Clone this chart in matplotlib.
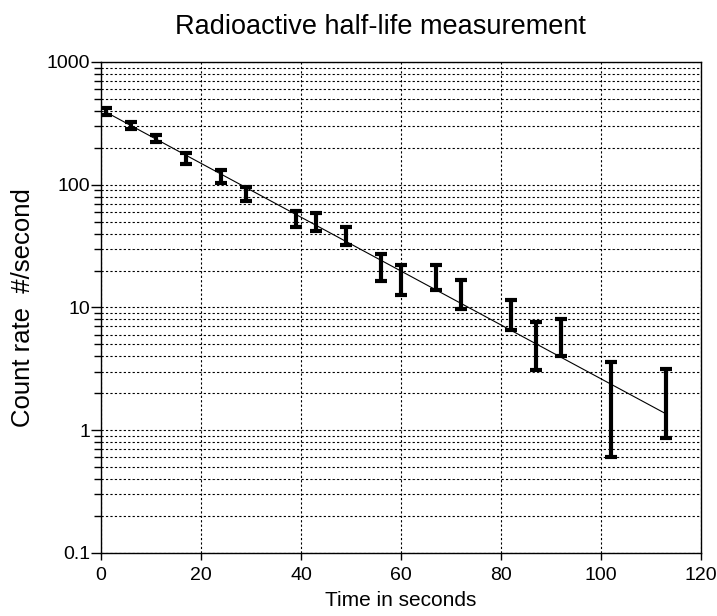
import numpy as np
import matplotlib.pyplot as plt
from matplotlib.ticker import LogLocator, FixedLocator, FixedFormatter

plt.rcParams['font.family'] = ['Liberation Sans', 'DejaVu Sans']

# measured count rates (linear, symmetric errors)
time_s = [1, 6, 11, 17, 24, 29, 39, 43, 49, 56, 60, 67, 72, 82, 87, 92, 102, 113]
rate = [395, 307, 239, 165, 118, 84.5, 53, 50.5, 39, 22, 17.4, 18, 13.3, 9, 5.35, 6.0, 2.1, 2.0]
rate_err = [25, 20, 15, 18, 14, 10.5, 8, 8.5, 6.6, 5.5, 4.8, 4, 3.6, 2.5, 2.25, 2.0, 1.5, 1.13]

# exponential fit endpoints (straight on log axis)
fit_t = [1, 113]
fit_rate = [390, 1.36]

ytick_vals = [0.1, 1, 10, 100, 1000]
ytick_labels = ['0.1', '1', '10', '100', '1000']

fig = plt.figure(figsize=(7.17, 6.16), dpi=100)
ax = fig.add_axes([0.1409, 0.1023, 0.8368, 0.7971])

ax.set_yscale('log')
ax.set_xlim(0, 120)
ax.set_ylim(0.1, 1000)

ax.plot(fit_t, fit_rate, color='black', linewidth=0.8, zorder=3)
ax.errorbar(time_s, rate, yerr=rate_err, fmt='none', ecolor='black',
            elinewidth=3, capsize=4, capthick=3, zorder=4)

ax.xaxis.set_major_locator(FixedLocator([0, 20, 40, 60, 80, 100, 120]))
ax.yaxis.set_major_locator(FixedLocator(ytick_vals))
ax.yaxis.set_major_formatter(FixedFormatter(ytick_labels))
ax.yaxis.set_minor_locator(LogLocator(base=10, subs=np.arange(2, 10)))
ax.yaxis.set_minor_formatter(plt.NullFormatter())

ax.tick_params(axis='y', which='major', direction='out', length=7, width=1, labelsize=14, pad=1)
ax.tick_params(axis='y', which='minor', direction='out', length=5, width=1)
ax.tick_params(axis='x', which='major', direction='out', length=5, width=1, labelsize=14, pad=5)

ax.grid(True, which='both', axis='y', linestyle=(0, (2, 2)), color='black', linewidth=0.8)
ax.grid(True, which='major', axis='x', linestyle=(0, (2, 2)), color='black', linewidth=0.8)

for s in ax.spines.values():
    s.set_linewidth(1)

ax.set_xlabel('Time in seconds', fontsize=15, labelpad=5)
ax.set_ylabel('Count rate  #/second', fontsize=18.5, labelpad=8)
ax.set_title('Radioactive half-life measurement', fontsize=19.5, pad=20, x=0.466)

fig.savefig('out.png', dpi=100)
